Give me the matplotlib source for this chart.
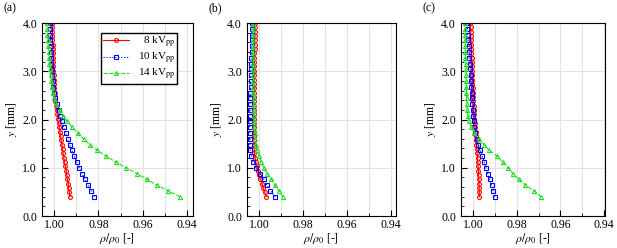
import matplotlib
matplotlib.use('Agg')
import matplotlib.pyplot as plt
from matplotlib.ticker import MultipleLocator, FormatStrFormatter

plt.rcParams['font.family'] = ['Liberation Serif', 'DejaVu Serif']
plt.rcParams['mathtext.fontset'] = 'stix'

# Wall-normal positions [mm]: 10 and 14 kVpp profiles
y_mm = [0.40, 0.52, 0.64, 0.76, 0.88, 1.00, 1.12, 1.24, 1.36, 1.48, 1.60,
        1.72, 1.84, 1.96, 2.08, 2.20, 2.32, 2.44, 2.56, 2.68, 2.80, 2.92,
        3.04, 3.16, 3.28, 3.40, 3.52, 3.64, 3.76, 3.88, 4.00]
# 8 kVpp profiles are sampled finer
y_mm_8 = [0.40, 0.49, 0.58, 0.67, 0.76, 0.85, 0.94, 1.03, 1.12, 1.21, 1.30,
          1.39, 1.48, 1.57, 1.66, 1.75, 1.84, 1.93, 2.02, 2.11, 2.20, 2.29,
          2.38, 2.47, 2.56, 2.65, 2.74, 2.83, 2.92, 3.01, 3.10, 3.19, 3.28,
          3.37, 3.46, 3.55, 3.64, 3.73, 3.82, 3.91, 4.00]

# (a)
a_8kV = [0.9928, 0.9931, 0.9934, 0.9937, 0.9940, 0.9943, 0.9946, 0.9949, 0.9953, 0.9956, 0.9959,
         0.9962, 0.9965, 0.9968, 0.9971, 0.9974, 0.9977, 0.9980, 0.9983, 0.9986, 0.9989, 0.9992,
         0.9995, 0.9997, 0.9998, 0.9999, 1.0000, 1.0001, 1.0002, 1.0003, 1.0004, 1.0004, 1.0005,
         1.0006, 1.0006, 1.0007, 1.0008, 1.0008, 1.0009, 1.0009, 1.0010]
a_10kV = [0.9818, 0.9833, 0.9847, 0.9861, 0.9874, 0.9887, 0.9898, 0.9909, 0.9920, 0.9930, 0.9939,
          0.9948, 0.9957, 0.9965, 0.9973, 0.9980, 0.9987, 0.9994, 0.9999, 1.0003, 1.0006, 1.0009,
          1.0011, 1.0012, 1.0014, 1.0015, 1.0016, 1.0017, 1.0018, 1.0019, 1.0020]
a_14kV = [0.9431, 0.9484, 0.9536, 0.9582, 0.9624, 0.9675, 0.9722, 0.9765, 0.9805, 0.9838, 0.9867,
          0.9894, 0.9918, 0.9940, 0.9958, 0.9975, 0.9990, 1.0000, 1.0005, 1.0009, 1.0012, 1.0016,
          1.0019, 1.0021, 1.0023, 1.0025, 1.0027, 1.0029, 1.0030, 1.0032, 1.0033]

# (b)
b_8kV = [0.9966, 0.9973, 0.9980, 0.9986, 0.9993, 1.0000, 1.0006, 1.0010, 1.0014, 1.0017, 1.0020,
         1.0021, 1.0022, 1.0023, 1.0024, 1.0024, 1.0024, 1.0024, 1.0024, 1.0024, 1.0024, 1.0024,
         1.0024, 1.0023, 1.0023, 1.0022, 1.0022, 1.0022, 1.0021, 1.0021, 1.0021, 1.0020, 1.0020,
         1.0020, 1.0019, 1.0019, 1.0019, 1.0018, 1.0018, 1.0018, 1.0018]
b_10kV = [0.9925, 0.9948, 0.9964, 0.9977, 0.9996, 1.0012, 1.0026, 1.0034, 1.0039, 1.0041, 1.0042,
          1.0042, 1.0042, 1.0042, 1.0042, 1.0041, 1.0041, 1.0040, 1.0039, 1.0038, 1.0037, 1.0036,
          1.0035, 1.0035, 1.0034, 1.0033, 1.0033, 1.0032, 1.0032, 1.0031, 1.0031]
b_14kV = [0.9889, 0.9909, 0.9925, 0.9943, 0.9962, 0.9978, 0.9989, 0.9999, 1.0008, 1.0013, 1.0016,
          1.0019, 1.0021, 1.0022, 1.0023, 1.0024, 1.0024, 1.0024, 1.0025, 1.0025, 1.0025, 1.0025,
          1.0025, 1.0025, 1.0025, 1.0025, 1.0025, 1.0025, 1.0025, 1.0025, 1.0025]

# (c)
c_8kV = [0.9970, 0.9971, 0.9971, 0.9972, 0.9973, 0.9974, 0.9975, 0.9976, 0.9978, 0.9979, 0.9981,
         0.9982, 0.9984, 0.9985, 0.9987, 0.9988, 0.9990, 0.9991, 0.9993, 0.9994, 0.9996, 0.9997,
         0.9998, 0.9999, 1.0000, 1.0001, 1.0002, 1.0002, 1.0003, 1.0004, 1.0005, 1.0005, 1.0006,
         1.0007, 1.0007, 1.0008, 1.0009, 1.0010, 1.0010, 1.0011, 1.0012]
c_10kV = [0.9901, 0.9907, 0.9915, 0.9924, 0.9932, 0.9940, 0.9949, 0.9957, 0.9966, 0.9975, 0.9983,
          0.9989, 0.9993, 0.9996, 0.9998, 1.0000, 1.0002, 1.0004, 1.0006, 1.0007, 1.0009, 1.0011,
          1.0012, 1.0014, 1.0016, 1.0018, 1.0020, 1.0022, 1.0023, 1.0025, 1.0027]
c_14kV = [0.9690, 0.9720, 0.9760, 0.9790, 0.9816, 0.9840, 0.9864, 0.9890, 0.9925, 0.9950, 0.9973,
          0.9993, 1.0007, 1.0017, 1.0023, 1.0026, 1.0028, 1.0029, 1.0030, 1.0030, 1.0031, 1.0031,
          1.0032, 1.0033, 1.0034, 1.0034, 1.0035, 1.0036, 1.0036, 1.0037, 1.0038]

panels = ['(a)', '(b)', '(c)']
panel_data = [[a_8kV, a_10kV, a_14kV], [b_8kV, b_10kV, b_14kV], [c_8kV, c_10kV, c_14kV]]
y_lists = [y_mm_8, y_mm, y_mm]
labels = ['  8 kV$_{\\mathrm{pp}}$', '10 kV$_{\\mathrm{pp}}$', '14 kV$_{\\mathrm{pp}}$']
colors = ['#ff0000', '#0000ff', '#22dd22']
styles = ['-', ':', '--']
markers = ['o', 's', '^']
msizes = [2.8, 2.6, 3.0]

fig = plt.figure(figsize=(6.17, 2.48), dpi=100)
lefts = [0.068, 0.400, 0.747]
widths = [0.244, 0.242, 0.234]
xright = [0.9375, 0.9375, 0.9395]

for k in range(3):
    ax = fig.add_axes([lefts[k], 0.129, widths[k], 0.778])
    for s in range(3):
        ax.plot(panel_data[k][s], y_lists[s], linestyle=styles[s], color=colors[s], lw=0.8,
                marker=markers[s], markersize=msizes[s], markerfacecolor='none',
                markeredgewidth=0.8, label=labels[s])
    ax.set_xlim(1.0055, xright[k])
    ax.set_ylim(0, 4)
    ax.xaxis.set_major_locator(MultipleLocator(0.02))
    ax.xaxis.set_minor_locator(MultipleLocator(0.01))
    ax.yaxis.set_major_locator(MultipleLocator(1.0))
    ax.yaxis.set_minor_locator(MultipleLocator(0.2))
    ax.xaxis.set_major_formatter(FormatStrFormatter('%.2f'))
    ax.yaxis.set_major_formatter(FormatStrFormatter('%.1f'))
    ax.tick_params(which='both', direction='in', labelsize=8.5, top=False, right=False)
    ax.tick_params(which='major', length=4, width=0.8)
    ax.tick_params(which='minor', length=2, width=0.6)
    ax.tick_params(axis='x', which='major', pad=2)
    ax.grid(True, which='both', axis='x', color='#e3e3e3', lw=0.8)
    ax.grid(True, which='major', axis='y', color='#e3e3e3', lw=0.8)
    ax.set_axisbelow(True)
    for sp in ax.spines.values():
        sp.set_linewidth(0.8)
    ax.set_xlabel(r'$\rho/\rho_0$ [-]', fontsize=8.5, labelpad=0.5)
    ax.set_ylabel('$y$ [mm]', fontsize=8.5, labelpad=2)
    fig.text(lefts[k] - 0.062, 0.965, panels[k], fontsize=8.5, va='center')
    if k == 0:
        leg = ax.legend(loc='upper right', bbox_to_anchor=(0.894, 0.948), fontsize=8,
                        frameon=True, fancybox=False, edgecolor='black', framealpha=1,
                        handlelength=2.3, borderpad=0.15, labelspacing=0.1,
                        handletextpad=0.8, borderaxespad=0)
        leg.get_frame().set_linewidth(1.0)

fig.savefig('out.png', dpi=100)
